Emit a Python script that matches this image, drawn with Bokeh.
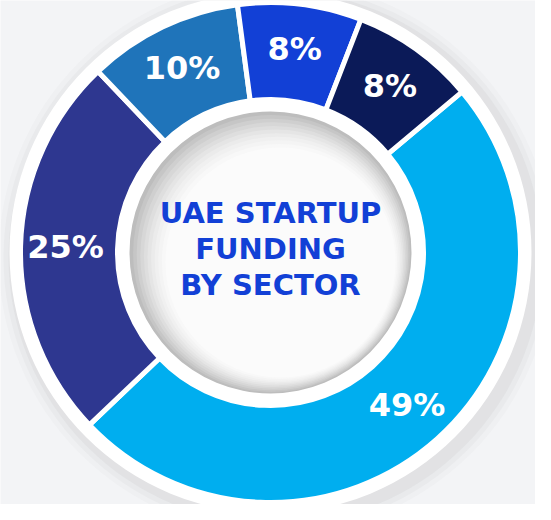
import math
from bokeh.plotting import figure
from bokeh.models import ColumnDataSource, Range1d
from bokeh.core.properties import value
from bokeh.embed import file_html
from bokeh.resources import INLINE

# ---- data ----
sectors = ["A", "B", "C", "D", "E"]
shares = [49, 25, 10, 8, 8]
labels = ["49%", "25%", "10%", "8%", "8%"]
colors = ["#00AEEF", "#2E3790", "#1F74BA", "#1240D6", "#0B1A58"]
title_lines = ["UAE STARTUP", "FUNDING", "BY SECTOR"]

START_DEG = 40.0
R_OUT, R_IN = 250, 153
LABEL_R = 205

total = float(sum(shares))
starts, ends, lx, ly = [], [], [], []
cum = 0.0
for v in shares:
    a0 = math.radians(START_DEG) - cum / total * 2 * math.pi
    a1 = a0 - v / total * 2 * math.pi
    starts.append(a0)
    ends.append(a1)
    mid = (a0 + a1) / 2
    lx.append(LABEL_R * math.cos(mid))
    ly.append(LABEL_R * math.sin(mid))
    cum += v

src = ColumnDataSource(dict(sector=sectors, share=shares, label=labels, color=colors,
                            start=starts, end=ends, lx=lx, ly=ly))

p = figure(width=535, height=504, output_backend="svg", toolbar_location=None,
           x_range=Range1d(-270, 265), y_range=Range1d(-252, 252),
           min_border=0, background_fill_color="#F3F4F6", border_fill_color="#F3F4F6")
p.axis.visible = False
p.grid.visible = False
p.outline_line_color = None

# outer soft shadow
for r, a in [(277, 0.04), (272, 0.06), (267, 0.09)]:
    p.circle(x=[5], y=[-5], radius=r, fill_color="#9a9a9a", fill_alpha=a, line_color=None)
# outer white ring
p.circle(x=[0], y=[0], radius=261, fill_color="white", line_color=None)

# donut slices
p.annular_wedge(x=0, y=0, inner_radius=R_IN, outer_radius=R_OUT,
                start_angle="start", end_angle="end", direction="clock",
                fill_color="color", line_color="white", line_width=5, source=src)

# inner white ring and shaded hole
p.circle(x=[0], y=[0], radius=R_IN - 2, fill_color="white", line_color=None)
shade = ["#bdbdbd", "#c6c6c6", "#cfcfcf", "#d7d7d7", "#dedede", "#e5e5e5",
         "#ebebeb", "#f0f0f0", "#f4f4f4", "#f8f8f8", "#fbfbfb"]
for i, c in enumerate(shade):
    r = 141 - i * 2.6
    off = i * 1.0
    p.circle(x=[off], y=[-off], radius=r, fill_color=c, line_color=None)

# slice labels
p.text(x="lx", y="ly", text="label", source=src, text_color="white",
       text_font=value("DejaVu Sans"), text_font_style="bold", text_font_size="32px",
       text_align="center", text_baseline="middle")

# centre title
p.text(x=[0, 0, 0], y=[40, 4, -32], text=title_lines, text_color="#1240D6",
       text_font=value("DejaVu Sans"), text_font_style="bold", text_font_size="29px",
       text_align="center", text_baseline="middle")

open("out.html", "w").write(file_html(p, INLINE))
